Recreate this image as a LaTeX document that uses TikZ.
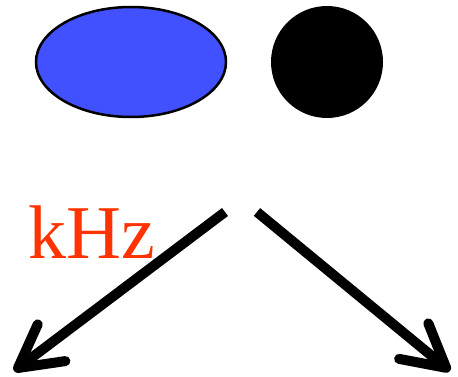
\documentclass[tikz,border=0pt]{standalone}
\usepackage{fontspec}
\setmainfont{Liberation Serif}
\usepackage{xcolor}
\usetikzlibrary{shapes.geometric,arrows.meta}
\definecolor{BlobBlue}{HTML}{4251FF}
\definecolor{FreqRed}{HTML}{FF3300}

\begin{document}
\begin{tikzpicture}[
    x=1pt, y=-1pt,
    blob/.style={ellipse, draw, line width=2.5pt, fill=BlobBlue,
                 minimum width=190pt, minimum height=110pt, inner sep=0pt},
    dot/.style={circle, fill=black, minimum size=112pt, inner sep=0pt},
    freq/.style={text=FreqRed, font=\fontsize{76}{76}\selectfont, inner sep=0pt},
    arr/.style={-{Straight Barb[length=42pt, width=46pt, round]},
                line width=10pt},
]
\useasboundingbox (0,0) rectangle (458,377);

%% Nodes
\node[blob] (oval)  at (131,62)  {};
\node[dot]  (ball)  at (327,62)  {};
\node[freq] (khz)   at (92,232)  {kHz};

%% Arrow ends
\coordinate (lstart) at (225,212);
\coordinate (lend)   at (14,371);
\coordinate (rstart) at (257,212);
\coordinate (rend)   at (450,371);

%% Arrows
\draw[arr] (lstart) -- (lend);
\draw[arr] (rstart) -- (rend);

\end{tikzpicture}
\end{document}
